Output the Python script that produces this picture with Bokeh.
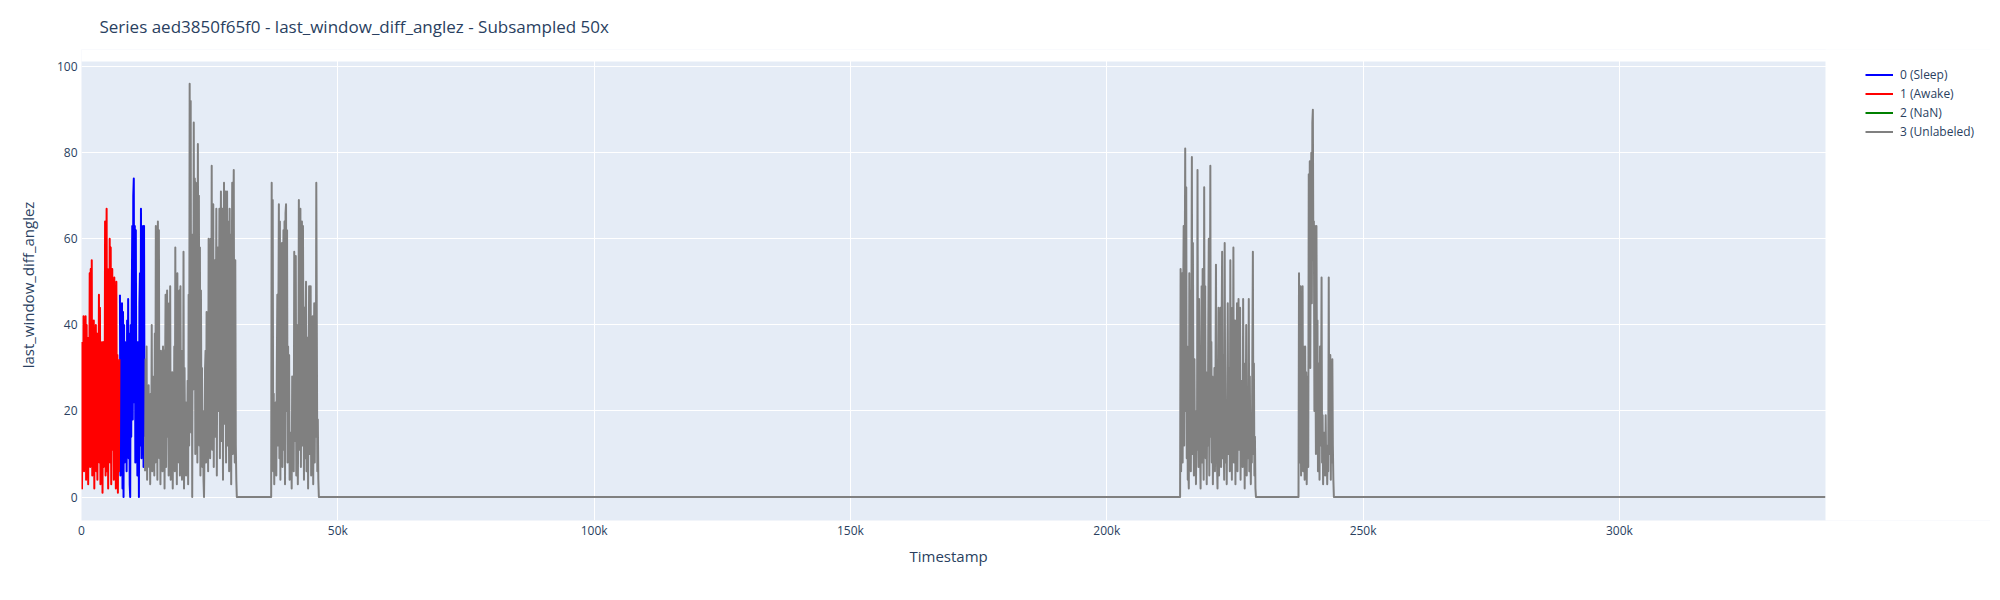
import numpy as np
from bokeh.plotting import figure
from bokeh.models import Range1d, FixedTicker, Legend, LegendItem, BoxAnnotation, Title
from bokeh.embed import file_html
from bokeh.resources import INLINE

TITLE = "Series aed3850f65f0 - last_window_diff_anglez - Subsampled 50x"
X_LABEL = "Timestamp"
Y_LABEL = "last_window_diff_anglez"

series_names = ["0 (Sleep)", "1 (Awake)", "2 (NaN)", "3 (Unlabeled)"]
series_colors = ["blue", "red", "green", "gray"]

sample_step = 100  # timestamp spacing of the plotted samples
ts_end = 340200    # last timestamp of the series

# label 1 (Awake)
awake_start = 0
awake_values = [
    36, 2, 31, 8, 42, 6, 41, 12, 42, 4,
    40, 9, 37, 3, 33, 14, 52, 7, 53, 10,
    55, 5, 38, 11, 41, 2, 35, 13, 40, 6,
    38, 4, 30, 16, 47, 8, 44, 3, 36, 10,
    35, 1, 36, 7, 28, 12, 64, 5, 45, 67,
    6, 53, 2, 38, 14, 60, 8, 58, 3, 44,
    53, 11, 40, 4, 51, 9, 47, 2, 50, 13,
    33, 1, 30, 6, 32,
]

# label 0 (Sleep)
sleep_start = 7500
sleep_values = [
    47, 5, 44, 10, 45, 2, 43, 0, 40, 8,
    36, 12, 30, 6, 41, 15, 46, 9, 38, 3,
    0, 40, 14, 45, 63, 18, 70, 74, 22, 63,
    8, 62, 16, 36, 5, 30, 36, 0, 45, 52,
    12, 67, 9, 60, 18, 63, 7, 63, 14,
]

# label 2 (NaN): no samples in this series
nan_x = [np.nan]
nan_y = [np.nan]

# label 3 (Unlabeled): active blocks
unl_block1_start = 12400
unl_block1_values = [
    6, 32, 9, 35, 4, 22, 11, 26, 7,
    18, 3, 24, 10, 40, 6, 28, 12, 24, 5,
    38, 8, 63, 15, 50, 4, 64, 20, 62, 9,
    30, 3, 34, 12, 25, 6, 35, 10, 34, 2,
    28, 47, 7, 36, 48, 14, 30, 5, 45, 11,
    49, 4, 22, 9, 29, 2, 25, 13, 35, 6,
    58, 10, 40, 3, 52, 15, 44, 8, 48, 5,
    49, 12, 26, 4, 34, 9, 57, 2, 30, 14,
    22, 5, 18, 10, 27, 3, 47, 12, 96, 40,
    92, 15, 60, 0, 61, 25, 87, 30, 74, 10,
    73, 20, 65, 8, 82, 35, 70, 12, 58, 5,
    48, 16, 30, 7, 20, 4, 0, 12, 30, 34,
    8, 43, 15, 28, 6, 60, 18, 45, 9, 60,
    22, 77, 11, 50, 68, 7, 40, 55, 14, 35,
    67, 5, 48, 58, 20, 36, 67, 9, 52, 71,
    13, 60, 67, 4, 45, 73, 17, 38, 71, 8,
    55, 71, 12, 64, 30, 6, 67, 19, 61, 3,
    48, 73, 10, 62, 76, 25, 8, 55, 12, 4,
]

unl_block2_start = 37100
unl_block2_values = [
    73, 10, 69, 6, 24, 3, 20, 8, 22, 5,
    30, 47, 12, 40, 68, 9, 64, 4, 58, 15,
    59, 7, 50, 62, 11, 64, 3, 66, 68, 20,
    62, 8, 35, 14, 33, 4, 12, 9, 15, 2,
    28, 10, 22, 6, 57, 13, 50, 56, 5, 40,
    35, 3, 20, 69, 11, 60, 67, 7, 45, 64,
    12, 63, 30, 4, 44, 9, 38, 50, 6, 30,
    37, 2, 28, 49, 10, 40, 49, 5, 35, 13,
    42, 3, 30, 45, 8, 38, 14, 73, 40, 6,
    18, 4, 0,
]

unl_block3_start = 214400
unl_block3_values = [
    53, 6, 30, 52, 8, 45, 63, 12, 50, 81,
    20, 72, 9, 35, 4, 7, 2, 52, 14, 48,
    6, 40, 79, 10, 59, 22, 5, 32, 8, 20,
    3, 19, 11, 76, 25, 7, 46, 15, 11, 2,
    30, 49, 8, 53, 16, 4, 72, 20, 49, 9,
    29, 3, 24, 12, 40, 60, 5, 33, 77, 14,
    36, 8, 28, 3, 19, 10, 30, 6, 25, 54,
    12, 8, 2, 22, 44, 5, 30, 11, 44, 7,
    38, 57, 9, 33, 14, 4, 59, 20, 8, 19,
    3, 26, 45, 10, 30, 27, 6, 55, 12, 36,
    4, 44, 17, 58, 8, 32, 41, 3, 41, 16,
    45, 6, 28, 46, 11, 35, 44, 4, 27, 9,
    22, 7, 46, 13, 31, 2, 24, 18, 40, 5,
    19, 9, 15, 46, 6, 28, 12, 3, 19, 8,
    34, 57, 10, 31, 5, 14, 2,
]

unl_block4_start = 237500
unl_block4_values = [
    52, 8, 30, 49, 5, 22, 14, 49, 6, 35,
    18, 4, 35, 9, 29, 3, 16, 28, 7, 75,
    40, 78, 30, 70, 80, 45, 87, 90, 55, 64,
    20, 63, 35, 10, 63, 28, 41, 6, 30, 31,
    4, 35, 12, 22, 51, 8, 19, 3, 15, 9,
    15, 5, 19, 7, 12, 3, 11, 6, 51, 10,
    22, 33, 4, 26, 8, 32, 12, 4,
]

# label 3 (Unlabeled): flat runs at zero (start, end timestamps)
unl_zero_runs = [(30300, 37000), (46400, 214300), (229100, 237400), (244300, ts_end)]

x_ticks = [0, 50000, 100000, 150000, 200000, 250000, 300000]
x_tick_labels = ["0", "50k", "100k", "150k", "200k", "250k", "300k"]
y_ticks = [0, 20, 40, 60, 80, 100]
y_tick_labels = ["0", "20", "40", "60", "80", "100"]
y_lo, y_hi = -5.45, 101.2   # visible value range of the plotting area


def block_xy(start, values):
    xs = start + sample_step * np.arange(len(values))
    return list(xs), list(values)


awake_x, awake_y = block_xy(awake_start, awake_values)
sleep_x, sleep_y = block_xy(sleep_start, sleep_values)

unl_blocks = [
    (unl_block1_start, unl_block1_values),
    (unl_block2_start, unl_block2_values),
    (unl_block3_start, unl_block3_values),
    (unl_block4_start, unl_block4_values),
]
unl_x, unl_y = [], []
for (bs, bv), (z0, z1) in zip(unl_blocks, unl_zero_runs):
    bx, by = block_xy(bs, bv)
    unl_x += bx + [z0, z1]
    unl_y += by + [0, 0]

FONT = "Open Sans"
TXT = "#2a3f5f"

# layout (pixels): plotting area x 81..1825, y 60..520; legend column at right
FIG_W, FIG_H = 1990, 584
LEFT, TOP, BOTTOM = 81, 48, 64
AREA_W, AREA_TOP, AREA_BOTTOM = 1744, 60, 520
frame_w = FIG_W - LEFT
x_view_end = ts_end * frame_w / AREA_W
px_per_unit = (AREA_BOTTOM - AREA_TOP) / (y_hi - y_lo)
y_view_top = y_hi + (AREA_TOP - TOP) / px_per_unit

p = figure(
    width=FIG_W, height=FIG_H,
    output_backend="svg", toolbar_location=None,
    x_range=Range1d(0, x_view_end), y_range=Range1d(y_lo, y_view_top),
    min_border_left=LEFT, min_border_right=0, min_border_top=TOP, min_border_bottom=BOTTOM,
    background_fill_color="#E5ECF6", border_fill_color="white",
    outline_line_color=None,
)

p.title.text = TITLE
p.title.text_font = FONT
p.title.text_font_size = "17px"
p.title.text_font_style = "normal"
p.title.text_color = TXT
p.title.align = "left"
p.title.offset = 18
p.title.standoff = 24

r_sleep = p.line(sleep_x, sleep_y, line_color=series_colors[0], line_width=2, line_join="round")
r_awake = p.line(awake_x, awake_y, line_color=series_colors[1], line_width=2, line_join="round")
r_nan = p.line(nan_x, nan_y, line_color=series_colors[2], line_width=2)
r_unl = p.line(unl_x, unl_y, line_color=series_colors[3], line_width=2, line_join="round")

# white paper around the plotting area (legend column and strip above),
# reaching a little past the frame edges so no sliver of background shows
pad_x = 0.05 * x_view_end
pad_y = 5.0
p.add_layout(BoxAnnotation(left=ts_end, right=x_view_end + pad_x, bottom=y_lo - pad_y,
                           top=y_view_top + pad_y,
                           fill_color="white", fill_alpha=1.0, line_color=None))
p.add_layout(BoxAnnotation(left=-pad_x, right=x_view_end + pad_x, bottom=y_hi,
                           top=y_view_top + pad_y,
                           fill_color="white", fill_alpha=1.0, line_color=None))

legend = Legend(
    items=[
        LegendItem(label=series_names[0], renderers=[r_sleep]),
        LegendItem(label=series_names[1], renderers=[r_awake]),
        LegendItem(label=series_names[2], renderers=[r_nan]),
        LegendItem(label=series_names[3], renderers=[r_unl]),
    ],
    location=(1784, 380),
    glyph_width=28, glyph_height=15, label_height=15, label_standoff=7, spacing=2,
    padding=0, margin=0, border_line_color=None, background_fill_alpha=0,
    label_text_font=FONT, label_text_font_size="12px", label_text_color=TXT,
)
p.add_layout(legend)

for ax in (p.xaxis[0], p.yaxis[0]):
    ax.axis_line_color = None
    ax.major_tick_line_color = None
    ax.minor_tick_line_color = None
    ax.major_tick_out = 0
    ax.major_tick_in = 0
    ax.minor_tick_out = 0
    ax.minor_tick_in = 0
    ax.major_label_text_font = FONT
    ax.major_label_text_font_size = "12px"
    ax.major_label_text_color = TXT
    ax.axis_label_text_font = FONT
    ax.axis_label_text_font_size = "15px"
    ax.axis_label_text_font_style = "normal"
    ax.axis_label_text_color = TXT

p.xaxis[0].ticker = FixedTicker(ticks=x_ticks)
p.xaxis[0].major_label_overrides = dict(zip(x_ticks, x_tick_labels))
p.yaxis[0].ticker = FixedTicker(ticks=y_ticks)
p.yaxis[0].major_label_overrides = dict(zip(y_ticks, y_tick_labels))
p.yaxis[0].axis_label = Y_LABEL
p.xaxis[0].major_label_standoff = 1
p.yaxis[0].major_label_standoff = 4
p.yaxis[0].axis_label_standoff = 16

# x-axis title, centred under the plotting area
p.add_layout(Title(text=X_LABEL, align="left", offset=828, standoff=5,
                   text_font=FONT, text_font_size="15px", text_font_style="normal",
                   text_color=TXT), "below")

p.xgrid.grid_line_color = "white"
p.ygrid.grid_line_color = "white"
p.xgrid.grid_line_width = 1
p.ygrid.grid_line_width = 1

open("out.html", "w").write(file_html(p, INLINE))
